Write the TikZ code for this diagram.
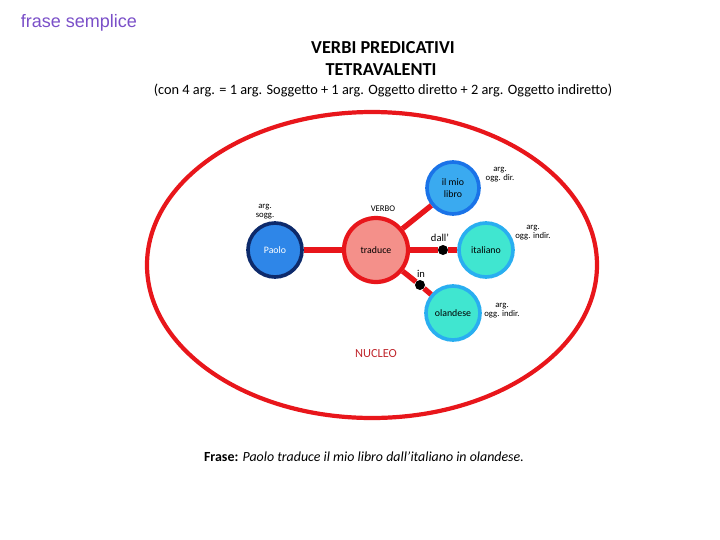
\documentclass[tikz,border=0pt]{standalone}
\usepackage{fontspec}
\setmainfont{Carlito}
\newfontfamily\arialfont{Liberation Sans}
\usepackage{tikz}

\definecolor{linered}{HTML}{E8161B}
\definecolor{verbofill}{HTML}{F4908A}
\definecolor{soggfill}{HTML}{2E86E8}
\definecolor{soggdraw}{HTML}{0D2A6B}
\definecolor{dirfill}{HTML}{3AAAF0}
\definecolor{dirdraw}{HTML}{1A73E8}
\definecolor{indirfill}{HTML}{40E6D0}
\definecolor{indirdraw}{HTML}{29AEF0}
\definecolor{nucleored}{HTML}{C0272D}
\definecolor{titlepurple}{HTML}{7A4FC8}

\tikzset{
    argnode/.style={circle, draw, line width=2.6pt, minimum size=1.35cm, inner sep=0pt, align=center, font=\fontsize{7}{8}\selectfont},
    verbonode/.style={circle, draw=linered, fill=verbofill, line width=3pt, minimum size=1.6cm, inner sep=0pt, font=\fontsize{7}{8}\selectfont},
    prep/.style={circle, fill=black, minimum size=0.25cm, inner sep=0pt},
    small/.style={align=center, font=\fontsize{6.2}{6.4}\selectfont},
    link/.style={draw=linered, line width=3.8pt}
}

\begin{document}
\begin{tikzpicture}
\useasboundingbox (0,0) rectangle (18,-13.5);

% ===== titles =====
\node[anchor=west, text=titlepurple, font=\arialfont\fontsize{12.8}{14}\selectfont] (tit) at (0.4,-0.575) {frase semplice};
\node[font=\bfseries\fontsize{13}{15}\selectfont] (verbi) at (9.575,-1.2) {VERBI PREDICATIVI};
\node[font=\bfseries\fontsize{13}{15}\selectfont] (tetra) at (9.525,-1.75) {TETRAVALENTI};
\node[font=\fontsize{10.2}{12}\selectfont] (sub) at (9.575,-2.25) {(con 4 arg. = 1 arg. Soggetto + 1 arg. Oggetto diretto + 2 arg. Oggetto indiretto)};

% ===== nucleo =====
\draw[linered, line width=3pt] (9.3,-6.625) ellipse [x radius=5.625cm, y radius=3.825cm];
\node[text=nucleored, font=\fontsize{8.8}{10}\selectfont] (nucleo) at (9.4,-8.85) {NUCLEO};

% ===== nodes =====
\node[verbonode] (verbo) at (9.4,-6.25) {traduce};
\node[argnode, draw=soggdraw, fill=soggfill, text=white] (paolo) at (6.875,-6.25) {Paolo};
\node[argnode, draw=dirdraw, fill=dirfill, minimum size=1.3cm] (libro) at (11.325,-4.7) {il mio\\libro};
\node[argnode, draw=indirdraw, fill=indirfill] (italiano) at (12.15,-6.25) {italiano};
\node[argnode, draw=indirdraw, fill=indirfill] (olandese) at (11.325,-7.825) {olandese};
\node[prep] (dall) at (11.075,-6.25) {};
\node[prep] (in) at (10.5,-7.125) {};

% ===== links =====
\draw[link] (paolo) -- (verbo);
\draw[link] (verbo) -- (libro);
\draw[link] (verbo) -- (dall) -- (italiano);
\draw[link] (verbo) -- (in) -- (olandese);

% ===== labels =====
\node[small] (lsogg) at (6.625,-5.3) {arg.\\sogg.};
\node[small] (lverbo) at (9.575,-5.225) {VERBO};
\node[small] (ldir) at (12.5,-4.375) {arg.\\ogg. dir.};
\node[small] (lind1) at (13.325,-5.825) {arg.\\ogg. indir.};
\node[small] (lind2) at (12.55,-7.775) {arg.\\ogg. indir.};
\node[font=\fontsize{7.5}{8}\selectfont] (ldall) at (11.0,-5.95) {dall'};
\node[font=\fontsize{7.5}{8}\selectfont] (lin) at (10.525,-6.85) {in};

% ===== frase =====
\node[font=\fontsize{9.9}{12}\selectfont] (frase) at (9.1,-11.425) {\textbf{Frase:} \textit{Paolo traduce il mio libro dall'italiano in olandese.}};

\end{tikzpicture}
\end{document}
